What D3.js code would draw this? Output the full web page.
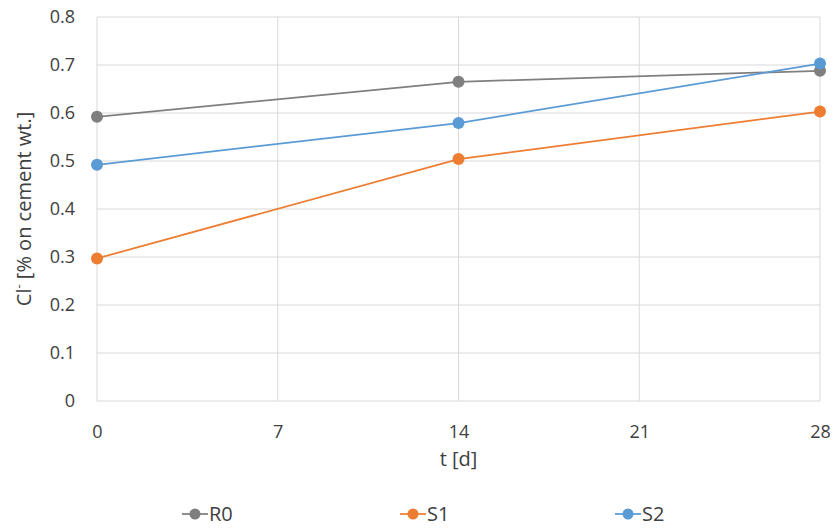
<!DOCTYPE html>
<html><head><meta charset="utf-8">
<script src="https://cdn.jsdelivr.net/npm/d3@7"></script>
<style>body{margin:0;background:#fff}svg{display:block}text{font-family:"Open Sans","Liberation Sans",sans-serif;fill:#404040}</style>
</head><body>
<svg id="c" width="835" height="529"></svg>
<script>
const days = [0, 14, 28];
const seriesNames = ["R0", "S1", "S2"];
const R0 = [0.592, 0.665, 0.688];
const S1 = [0.297, 0.504, 0.603];
const S2 = [0.492, 0.579, 0.703];
const xTicks = [0, 7, 14, 21, 28];
const yTicks = [0, 0.1, 0.2, 0.3, 0.4, 0.5, 0.6, 0.7, 0.8];
const colors = ["#7f7f7f", "#ED7D31", "#5B9BD5"];

const svg = d3.select("#c");
const L = 97, R = 820, T = 17, B = 401;
const x = d3.scaleLinear().domain([0, 28]).range([L, R]);
const y = d3.scaleLinear().domain([0, 0.8]).range([B, T]);
const font = '"Open Sans","Liberation Sans",sans-serif';

// grid
svg.append("g").selectAll("line").data(yTicks).join("line")
  .attr("x1", L).attr("x2", R).attr("y1", d => y(d)).attr("y2", d => y(d))
  .attr("stroke", "#d9d9d9").attr("stroke-width", 1);
svg.append("g").selectAll("line").data(xTicks).join("line")
  .attr("x1", d => x(d)).attr("x2", d => x(d)).attr("y1", T).attr("y2", B)
  .attr("stroke", "#d9d9d9").attr("stroke-width", 1);

// axes
const ya = svg.append("g").attr("transform", `translate(${L},0)`)
  .call(d3.axisLeft(y).tickValues(yTicks).tickFormat(d => d === 0 ? "0" : d3.format(".1f")(d)).tickSize(0).tickPadding(22));
ya.select(".domain").remove();
ya.selectAll("text").attr("font-size", 18).attr("fill", "#404040").style("font-family", font);
const xa = svg.append("g").attr("transform", `translate(0,${B})`)
  .call(d3.axisBottom(x).tickValues(xTicks).tickSize(0).tickPadding(24));
xa.select(".domain").remove();
xa.selectAll("text").attr("font-size", 18).attr("fill", "#404040").style("font-family", font);

// titles
svg.append("text").attr("x", x(14)).attr("y", 466).attr("text-anchor", "middle")
  .attr("font-size", 20).text("t [d]");
const yt = svg.append("text").attr("transform", `translate(31,${(T + B) / 2}) rotate(-90)`)
  .attr("text-anchor", "middle").attr("font-size", 20);
yt.append("tspan").text("Cl");
yt.append("tspan").attr("dy", -8).attr("font-size", 13).text("-");
yt.append("tspan").attr("dy", 8).text(" [% on cement wt.]");

// series
const data = [R0, S1, S2];
const line = d3.line().x((d, i) => x(days[i])).y(d => y(d));
data.forEach((vals, k) => {
  svg.append("path").datum(vals).attr("d", line).attr("fill", "none")
    .attr("stroke", colors[k]).attr("stroke-width", 1.75);
  svg.append("g").selectAll("circle").data(vals).join("circle")
    .attr("cx", (d, i) => x(days[i])).attr("cy", d => y(d)).attr("r", 6)
    .attr("fill", colors[k]);
});

// legend
const legX = [195, 413, 628];
seriesNames.forEach((n, k) => {
  const g = svg.append("g").attr("transform", `translate(${legX[k]},514)`);
  g.append("line").attr("x1", -13).attr("x2", 13).attr("stroke", colors[k]).attr("stroke-width", 1.75);
  g.append("circle").attr("r", 5.5).attr("fill", colors[k]);
  g.append("text").attr("x", 14).attr("y", 7).attr("font-size", 20).text(n);
});
</script>
</body></html>
